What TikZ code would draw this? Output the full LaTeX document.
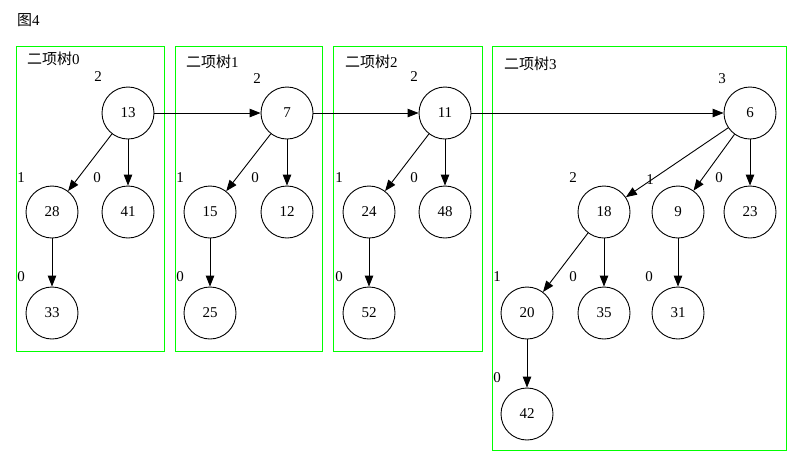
\documentclass[tikz,border=0pt]{standalone}
\usepackage{fontspec}
\setmainfont{Liberation Serif}
\newfontfamily\cjk{Noto Sans CJK SC}
\usetikzlibrary{arrows.meta}
\begin{document}
\begin{tikzpicture}[x=1pt,y=-1pt,
  tnode/.style={circle,draw,line width=0.9pt,minimum size=52pt,inner sep=0pt,font=\fontsize{15}{17}\selectfont},
  edge/.style={line width=0.9pt,-{Triangle[length=11pt,width=8.5pt]}},
  cluster/.style={draw=green,line width=1pt},
  lbl/.style={inner sep=0pt,font=\fontsize{15}{17}\selectfont},
  ctitle/.style={inner sep=0pt,font=\fontsize{15}{17}\selectfont,anchor=west}]
\useasboundingbox (0,0) rectangle (803,467);
% clusters
\draw[cluster] (16,46) rectangle (164,351);
\draw[cluster] (175,46) rectangle (322,351);
\draw[cluster] (333,46) rectangle (482,351);
\draw[cluster] (492,46) rectangle (786,450);
% titles
\node[ctitle] (fig) at (17,20) {{\cjk 图}4};
\node[ctitle] (t0) at (27,59) {{\cjk 二项树}0};
\node[ctitle] (t1) at (186,62) {{\cjk 二项树}1};
\node[ctitle] (t2) at (345,62) {{\cjk 二项树}2};
\node[ctitle] (t3) at (504,64) {{\cjk 二项树}3};
% nodes
\node[tnode] (n13) at (128,113) {13};
\node[tnode] (n28) at (52,212) {28};
\node[tnode] (n41) at (128,212) {41};
\node[tnode] (n33) at (52,313) {33};
\node[tnode] (n7) at (287,113) {7};
\node[tnode] (n15) at (210,212) {15};
\node[tnode] (n12) at (287,212) {12};
\node[tnode] (n25) at (210,313) {25};
\node[tnode] (n11) at (445,113) {11};
\node[tnode] (n24) at (369,212) {24};
\node[tnode] (n48) at (445,212) {48};
\node[tnode] (n52) at (369,313) {52};
\node[tnode] (n6) at (750,113) {6};
\node[tnode] (n18) at (604,212) {18};
\node[tnode] (n9) at (678,212) {9};
\node[tnode] (n23) at (750,212) {23};
\node[tnode] (n20) at (527,313) {20};
\node[tnode] (n35) at (604,313) {35};
\node[tnode] (n31) at (678,313) {31};
\node[tnode] (n42) at (527,414) {42};
% degree labels
\node[lbl] (d13) at (98,77) {2};
\node[lbl] (d28) at (21,178) {1};
\node[lbl] (d41) at (97,178) {0};
\node[lbl] (d33) at (21,277) {0};
\node[lbl] (d7) at (257,79) {2};
\node[lbl] (d15) at (180,178) {1};
\node[lbl] (d12) at (255,178) {0};
\node[lbl] (d25) at (180,277) {0};
\node[lbl] (d11) at (414,77) {2};
\node[lbl] (d24) at (339,178) {1};
\node[lbl] (d48) at (414,178) {0};
\node[lbl] (d52) at (339,277) {0};
\node[lbl] (d6) at (722,79) {3};
\node[lbl] (d18) at (573,178) {2};
\node[lbl] (d9l) at (650,180) {1};
\node[lbl] (d9) at (719,178) {0};
\node[lbl] (d20) at (497,277) {1};
\node[lbl] (d35) at (573,277) {0};
\node[lbl] (d31) at (649,277) {0};
\node[lbl] (d42) at (497,378) {0};
% edges
\draw[edge] (n13) -- (n28);
\draw[edge] (n13) -- (n41);
\draw[edge] (n28) -- (n33);
\draw[edge] (n7) -- (n15);
\draw[edge] (n7) -- (n12);
\draw[edge] (n15) -- (n25);
\draw[edge] (n11) -- (n24);
\draw[edge] (n11) -- (n48);
\draw[edge] (n24) -- (n52);
\draw[edge] (n6) -- (n18);
\draw[edge] (n6) -- (n9);
\draw[edge] (n6) -- (n23);
\draw[edge] (n18) -- (n20);
\draw[edge] (n18) -- (n35);
\draw[edge] (n9) -- (n31);
\draw[edge] (n20) -- (n42);
\draw[edge] (n13) -- (n7);
\draw[edge] (n7) -- (n11);
\draw[edge] (n11) -- (n6);
\end{tikzpicture}
\end{document}
